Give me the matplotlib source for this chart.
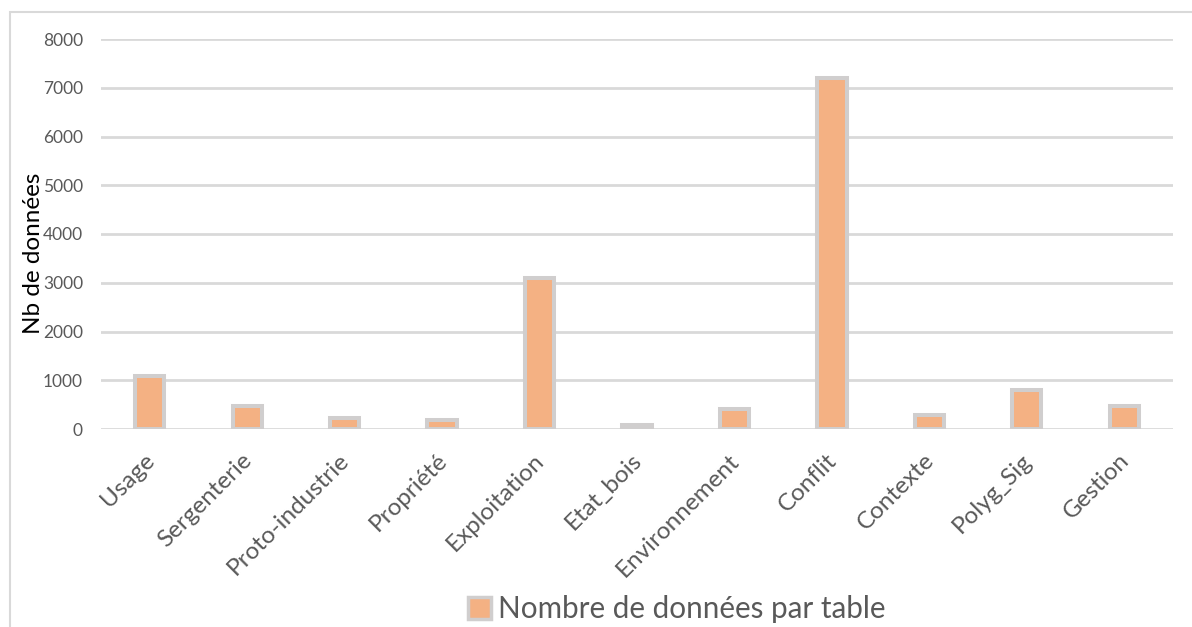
import matplotlib.pyplot as plt
import matplotlib.transforms as mtransforms
from matplotlib.patches import Rectangle, Patch

# Data
tables = ["Usage", "Sergenterie", "Proto-industrie", "Propriété", "Exploitation",
          "Etat_bois", "Environnement", "Conflit", "Contexte", "Polyg_Sig", "Gestion"]
counts = [1080, 480, 225, 175, 3100, 85, 410, 7200, 290, 790, 480]

bar_color = "#F4B183"
edge_color = "#D0CECE"
grid_color = "#D9D9D9"
text_color = "#595959"

plt.rcParams['font.family'] = ['Lato', 'DejaVu Sans']

fig = plt.figure(figsize=(11.92, 6.27), dpi=100)
ax = fig.add_axes([101 / 1192, 1 - 429 / 627, 1072 / 1192, 390 / 627])

# chart border (cropped at right and bottom)
fig.patches.append(Rectangle((10 / 1192, -0.05), 1.1, 1 - 12 / 627 + 0.05,
                             transform=fig.transFigure, fill=False,
                             edgecolor=grid_color, linewidth=1.5))

x = range(len(tables))
ax.bar(x, counts, width=0.3, color=bar_color, edgecolor=edge_color,
       linewidth=2.9, zorder=3)

ax.set_xlim(-0.5, len(tables) - 0.5)
ax.set_ylim(0, 8000)
ax.set_yticks(range(0, 8001, 1000))
ax.yaxis.grid(True, color=grid_color, linewidth=2, zorder=0)
ax.set_axisbelow(True)
for s in ax.spines.values():
    s.set_visible(False)
ax.tick_params(axis='both', length=0, colors=text_color)
ax.tick_params(axis='y', labelsize=12.5, pad=13)
ax.set_xticks(list(x))
ax.set_xticklabels(tables, rotation=45, ha='right', va='top',
                   rotation_mode='anchor', fontsize=17.5, color=text_color)
ax.tick_params(axis='x', pad=15)
shift = mtransforms.ScaledTranslation(-6 / 100, 0, fig.dpi_scale_trans)
for lbl in ax.get_xticklabels():
    lbl.set_transform(lbl.get_transform() + shift)

ax.set_ylabel("Nb de données", fontsize=17.5, color="black")
ax.yaxis.set_label_coords(-0.053, 0.451)

handle = Patch(facecolor=bar_color, edgecolor=edge_color, linewidth=2.5)
fig.legend([handle], ["Nombre de données par table"], loc='center',
           bbox_to_anchor=(677 / 1192, 1 - 609 / 627), frameon=False,
           fontsize=21.3, labelcolor=text_color, handlelength=0.75,
           handleheight=0.75, handletextpad=0.25, borderpad=0)

fig.savefig("out.png", dpi=100)
